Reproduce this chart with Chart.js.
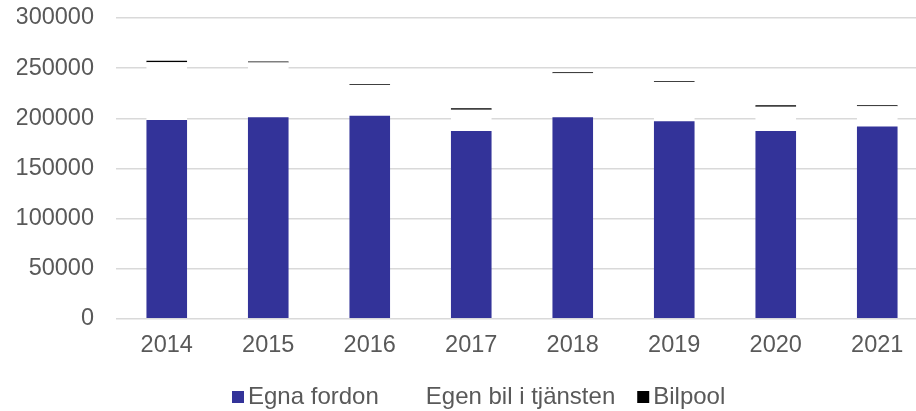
<!DOCTYPE html>
<html>
<head>
<meta charset="utf-8">
<script src="https://cdn.jsdelivr.net/npm/chart.js@4.4.1/dist/chart.umd.min.js"></script>
<style>
  html, body { margin: 0; padding: 0; background: #fff; overflow: hidden; }
  #wrap { width: 930px; height: 411px; position: relative; }
</style>
</head>
<body>
<div id="wrap"><canvas id="c"></canvas></div>
<script>
const categories = ['2014', '2015', '2016', '2017', '2018', '2019', '2020', '2021'];
const egnaFordon = [198300, 201000, 202600, 187400, 201000, 197000, 187400, 191700];
const egenBil = [57600, 54500, 30700, 21100, 43900, 39200, 24100, 20400];
const bilpool = [1500, 1200, 700, 1500, 1000, 800, 1500, 900];
const seriesNames = ['Egna fordon', 'Egen bil i tjänsten', 'Bilpool'];
const yTicks = [0, 50000, 100000, 150000, 200000, 250000, 300000];

const FONT = '"Liberation Sans", Arial, sans-serif';
const FS_TICK = 23.5;
const FS_LEGEND = 24;
const TEXT = '#595959';

const legendPlugin = {
  id: 'customLegend',
  afterDraw(chart) {
    const ctx = chart.ctx;
    ctx.save();
    ctx.font = FS_LEGEND + 'px ' + FONT;
    const items = chart.data.datasets.map(d => ({ text: d.label, color: d.backgroundColor }));
    const box = 12, gapText = 4;
    const gaps = [31, 22];
    let x = 232;
    const cy = 397;
    items.forEach((it, i) => {
      ctx.fillStyle = it.color;
      ctx.fillRect(x, cy - 6, box, box);
      ctx.fillStyle = TEXT;
      ctx.textBaseline = 'middle';
      ctx.textAlign = 'left';
      ctx.fillText(it.text, x + box + gapText, cy);
      x += box + gapText + ctx.measureText(it.text).width + (gaps[i] || 0);
    });
    ctx.restore();
  }
};

new Chart(document.getElementById('c'), {
  type: 'bar',
  data: {
    labels: categories,
    datasets: [
      { label: seriesNames[0], data: egnaFordon, backgroundColor: '#333399' },
      { label: seriesNames[1], data: egenBil, backgroundColor: '#ffffff' },
      { label: seriesNames[2], data: bilpool, backgroundColor: '#000000' }
    ]
  },
  options: {
    responsive: true,
    maintainAspectRatio: false,
    animation: false,
    events: [],
    layout: { padding: { left: 17, right: 2, top: 18, bottom: 38 } },
    datasets: { bar: { barPercentage: 0.4, categoryPercentage: 1.0, borderWidth: 0 } },
    plugins: { legend: { display: false }, tooltip: { enabled: false } },
    scales: {
      x: {
        stacked: true,
        grid: { display: false, drawTicks: false },
        border: { display: false },
        ticks: { color: TEXT, font: { family: FONT, size: FS_TICK }, padding: 13, maxRotation: 0 }
      },
      y: {
        stacked: true,
        min: 0,
        max: 300000,
        afterBuildTicks(axis) { axis.ticks = yTicks.map(v => ({ value: v })); },
        afterFit(axis) { axis.width = 99; axis.paddingTop = 0; axis.paddingBottom = 0; },
        grid: { color: '#d9d9d9', lineWidth: 1.5, drawTicks: false },
        border: { display: false },
        ticks: {
          color: TEXT,
          font: { family: FONT, size: FS_TICK },
          padding: 22,
          callback: v => String(v)
        }
      }
    }
  },
  plugins: [legendPlugin]
});
</script>
</body>
</html>
